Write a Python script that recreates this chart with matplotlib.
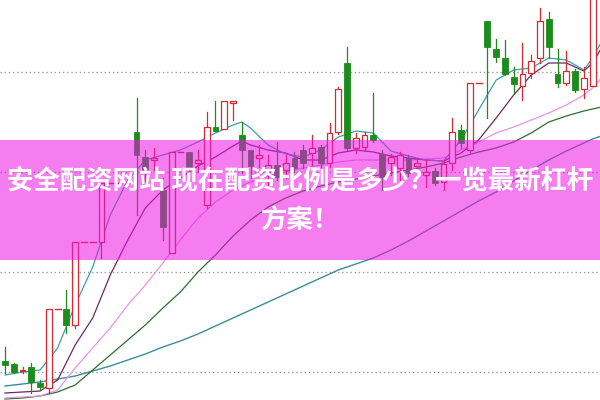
import matplotlib
matplotlib.use("Agg")
import matplotlib.pyplot as plt
from matplotlib.patches import Rectangle

# ---- candle data (price units) ----
opens  = [39, 36, 29, 33, 17, 12, 91, 91, 75, 158, 158, 158, 217, 217, 217, 268, 243, 240, 210, 147,
          248, 248, 237, 195, 273, 271, 297, 265, 250, 242, 228, 235, 230, 242, 250, 247, 253, 237, 268, 337,
          252, 253, 265, 246, 237, 232, 242, 234, 225, 229, 218, 237, 270, 250, 317, 379, 351, 342, 323, 314,
          327, 342, 381, 326, 317, 329, 311, 314]
closes = [35, 28, 30, 18, 13, 91, 91, 75, 158, 158, 158, 217, 217, 217, 217, 245, 230, 242, 173, 248,
          248, 232, 240, 273, 269, 299, 299, 250, 234, 245, 235, 223, 237, 232, 237, 252, 237, 267, 311, 252,
          262, 265, 260, 223, 243, 245, 227, 237, 228, 217, 236, 268, 257, 317, 317, 353, 343, 326, 316, 326,
          339, 379, 353, 317, 329, 310, 322, 410]
highs  = [53, 37, 33, 37, 20, 91, 91, 110, 158, 158, 158, 217, 217, 217, 217, 302, 250, 252, 222, 248,
          248, 248, 250, 288, 299, 299, 299, 278, 250, 255, 245, 258, 245, 248, 255, 265, 255, 277, 313, 353,
          267, 268, 307, 250, 246, 248, 245, 242, 240, 232, 240, 282, 275, 317, 317, 379, 361, 360, 333, 357,
          345, 392, 388, 351, 349, 331, 333, 420]
lows   = [27, 27, 27, 7, 10, 7, 91, 67, 72, 158, 158, 142, 217, 217, 217, 185, 215, 230, 160, 147,
          248, 223, 228, 192, 269, 271, 280, 227, 222, 233, 215, 220, 222, 228, 232, 235, 233, 233, 266, 250,
          247, 249, 258, 210, 225, 220, 224, 228, 213, 215, 210, 230, 252, 248, 317, 282, 338, 325, 307, 300,
          322, 337, 342, 313, 315, 308, 302, 314]

# ---- moving averages, read at these candle positions ----
ma_idx = [0, 2, 4, 6, 8, 10, 12, 14, 16, 18, 20, 22, 24, 26, 27, 28, 30, 32, 34, 36, 38, 40, 42, 44,
          46, 48, 50, 52, 54, 56, 58, 60, 62, 64, 66, 67, 68]
ma5  = [25, 28, 30, 52, 95, 133, 185, 220, 240, 245, 250, 258, 267, 275, 278, 272, 255, 246, 243, 250,
        263, 269, 267, 249, 244, 240, 239, 260, 290, 320, 330, 332, 342, 340, 330, 342, 358]
ma10 = [7, 8, 9, 20, 55, 82, 125, 160, 192, 210, 222, 234, 243, 254, 259, 255, 250, 247, 240, 240,
        247, 250, 248, 244, 242, 240, 239, 247, 260, 282, 305, 325, 337, 337, 329, 337, 352]
ma20 = [2, 3, 4, 10, 32, 52, 72, 95, 115, 137, 160, 182, 198, 210, 214, 218, 224, 228, 232, 235,
        238, 240, 240, 240, 240, 241, 242, 250, 258, 267, 273, 280, 287, 295, 305, 312, 322]
ma30 = [1, 2, 4, 8, 15, 30, 45, 60, 75, 92, 108, 128, 145, 164, 172, 180, 193, 202, 209, 214,
        218, 221, 224, 227, 230, 233, 237, 243, 248, 252, 258, 267, 278, 284, 289, 291, 293]
ma60 = [14, 16, 18, 21, 24, 29, 34, 40, 46, 53, 59, 66, 74, 82, 86, 90, 98, 106, 114, 122,
        130, 136, 142, 150, 159, 169, 179, 189, 199, 208, 219, 230, 240, 249, 257, 261, 264]

grid_levels = [28, 128, 228, 328]
title_line1 = "安全配资网站 现在配资比例是多少？一览最新杠杆"
title_line2 = "方案！"

RED = "#d42a30"
GREEN = "#1c8c1c"

fig = plt.figure(figsize=(6, 4), dpi=100)
ax = fig.add_axes([0, 0, 1, 1])
ax.set_xlim(-0.57, 67.84)
ax.set_ylim(0, 400)
ax.axis("off")

for g in grid_levels:
    ax.axhline(g, color="#9a9a9a", lw=1.0, linestyle=(0, (1, 2)), zorder=0)

w = 0.66
for i, (o, c, h, l) in enumerate(zip(opens, closes, highs, lows)):
    if o == c == h == l:
        ax.plot([i - w / 2, i + w / 2], [o, o], color=RED, lw=1.0, zorder=3)
        continue
    if c >= o:
        top, bot = c, o
        ax.plot([i, i], [top, h], color=RED, lw=0.9, zorder=3)
        ax.plot([i, i], [l, bot], color=RED, lw=0.9, zorder=3)
        ax.add_patch(Rectangle((i - w / 2, bot), w, max(top - bot, 0.8),
                               facecolor="white", edgecolor=RED, lw=0.9, zorder=3))
    else:
        top, bot = o, c
        ax.plot([i, i], [l, h], color=GREEN, lw=0.9, zorder=3)
        ax.add_patch(Rectangle((i - w / 2, bot), w, max(top - bot, 1.5),
                               facecolor=GREEN, edgecolor=GREEN, lw=0.6, zorder=3))

ax.plot(ma_idx, ma60, color="#3d8c98", lw=1.0, zorder=2)
ax.plot(ma_idx, ma30, color="#2d6e2d", lw=0.9, zorder=2)
ax.plot(ma_idx, ma20, color="#e695e6", lw=0.9, zorder=2)
ax.plot(ma_idx, ma10, color="#6a2a62", lw=0.9, zorder=2)
ax.plot(ma_idx, ma5, color="#3aa0aa", lw=0.9, zorder=2)

ax.axhspan(140, 260, facecolor=(237 / 255, 19 / 255, 228 / 255), alpha=0.55, lw=0, zorder=5)

fam = ["Noto Sans CJK SC", "DejaVu Sans"]
fig.text(0.5, 1 - 182 / 400, title_line1, ha="center", va="center", color="white",
         fontsize=19, fontweight="bold", family=fam, zorder=10)
fig.text(0.5, 1 - 221 / 400, title_line2, ha="center", va="center", color="white",
         fontsize=19, fontweight="bold", family=fam, zorder=10)

fig.savefig("out.png", dpi=100)
